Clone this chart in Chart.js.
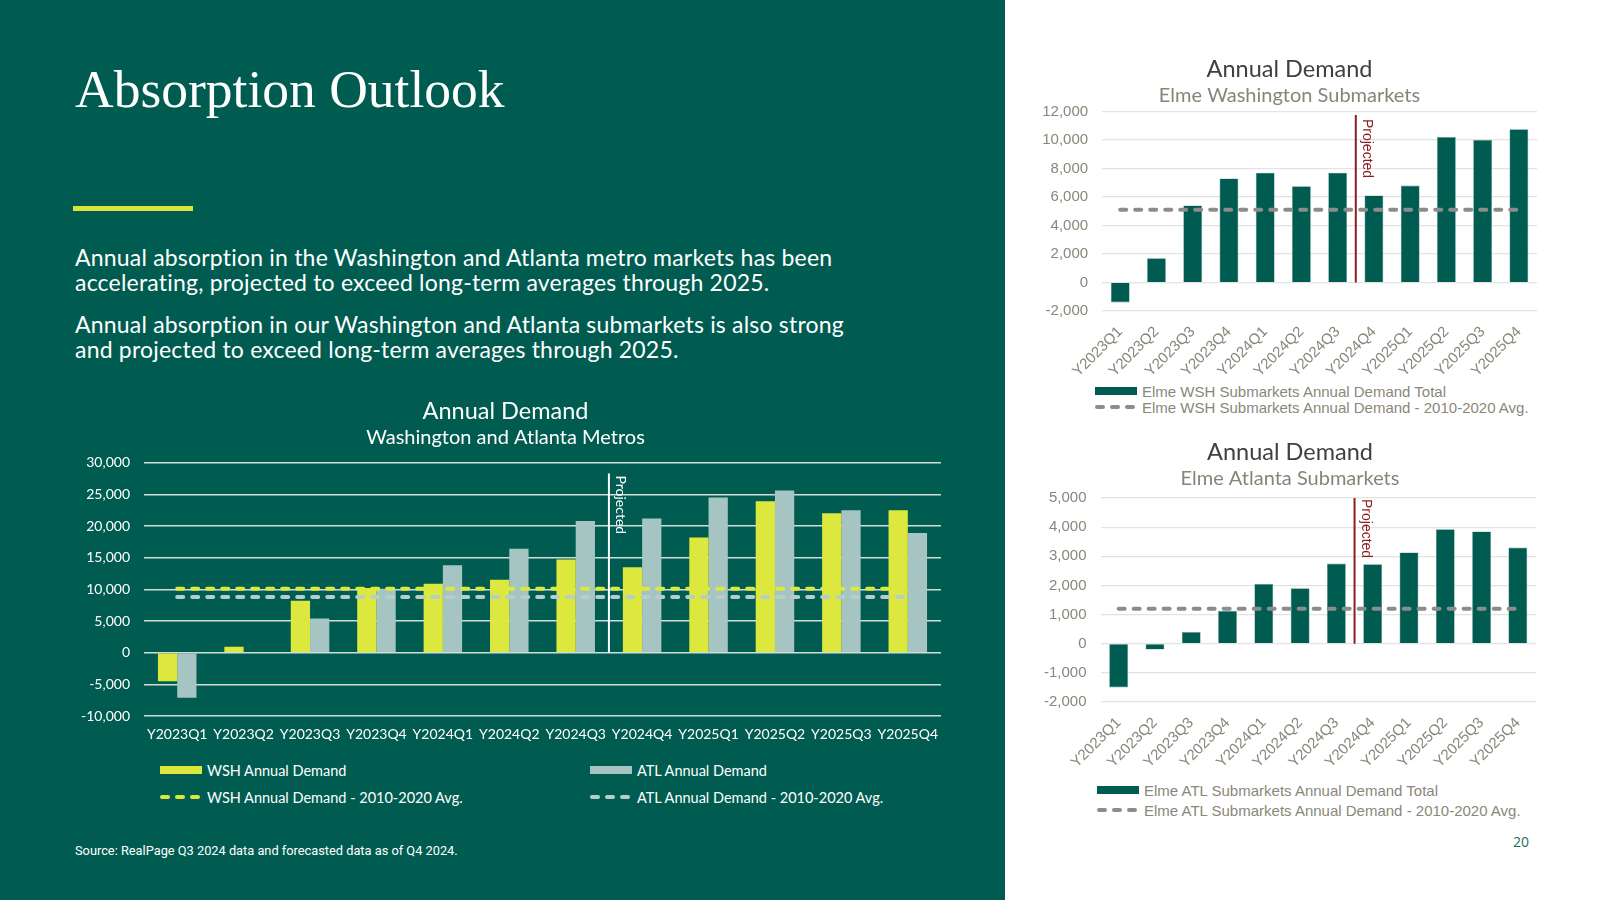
<!DOCTYPE html>
<html>
<head>
<meta charset="utf-8">
<title>Absorption Outlook</title>
<script src="https://cdn.jsdelivr.net/npm/chart.js@4.4.1/dist/chart.umd.min.js"></script>
<style>
  html, body { margin: 0; padding: 0; }
  body { width: 1600px; height: 900px; position: relative; overflow: hidden; background: #fff; font-family: Lato, sans-serif; }
  .panel { position: absolute; left: 0; top: 0; width: 1005px; height: 900px; background: #005c50; }
  .abs { position: absolute; }
  h1 { position: absolute; left: 75px; top: 62px; margin: 0; font: normal 53.5px/54px "Liberation Serif", serif; color: #fff; white-space: nowrap; }
  .accent { position: absolute; left: 73px; top: 206px; width: 120px; height: 5px; background: #d9e63a; }
  .body-text { position: absolute; left: 75px; margin: 0; font: 23px/25px Lato, sans-serif; letter-spacing: 0.2px; color: #fff; white-space: nowrap; }
  .source { position: absolute; left: 75px; top: 843px; font: 12.8px/16px Roboto, sans-serif; color: #fff; white-space: nowrap; }
  .pagenum { position: absolute; left: 1510px; top: 833px; width: 22px; text-align: center; font: 14px/18px "Open Sans", sans-serif; color: #1f6e62; }
  .legend .item { position: absolute; display: flex; align-items: center; white-space: nowrap; }
  .legend svg { display: block; flex: none; }
  #metroLegend .item { font: 14.5px Lato, sans-serif; color: #fff; }
  .subLegend .item { font: 15px "Liberation Sans", Arial, sans-serif; color: #89877a; }
</style>
</head>
<body>
<div class="panel"></div>
<h1>Absorption Outlook</h1>
<div class="accent"></div>
<p class="body-text" style="top:244.5px">Annual absorption in the Washington and Atlanta metro markets has been<br>accelerating, projected to exceed long-term averages through 2025.</p>
<p class="body-text" style="top:311.5px">Annual absorption in our Washington and Atlanta submarkets is also strong<br>and projected to exceed long-term averages through 2025.</p>

<div class="abs" style="left:70px;top:390px;width:871px;height:360px"><canvas id="metroChart"></canvas></div>
<div id="metroLegend" class="legend"></div>

<div class="abs" style="left:1041.5px;top:40px;width:495px;height:341px"><canvas id="wshChart"></canvas></div>
<div id="wshLegend" class="legend subLegend"></div>

<div class="abs" style="left:1043.5px;top:425px;width:492px;height:347px"><canvas id="atlChart"></canvas></div>
<div id="atlLegend" class="legend subLegend"></div>

<div class="source">Source: RealPage Q3 2024 data and forecasted data as of Q4 2024.</div>
<div class="pagenum">20</div>

<script>
// quarters on every x axis
const quarters = ['Y2023Q1', 'Y2023Q2', 'Y2023Q3', 'Y2023Q4', 'Y2024Q1', 'Y2024Q2',
  'Y2024Q3', 'Y2024Q4', 'Y2025Q1', 'Y2025Q2', 'Y2025Q3', 'Y2025Q4'];

// metro markets (left chart)
const wshMetro = [-4500, 950, 8200, 10200, 10900, 11500, 14700, 13500, 18200, 23900, 22000, 22500];
const atlMetro = [-7100, 0, 5400, 10100, 13800, 16400, 20800, 21200, 24500, 25600, 22500, 18900];
const wshMetroAvg = [10100, 10100, 10100, 10100, 10100, 10100, 10100, 10100, 10100, 10100, 10100, 10100];
const atlMetroAvg = [8800, 8800, 8800, 8800, 8800, 8800, 8800, 8800, 8800, 8800, 8800, 8800];
const metroNames = ['WSH Annual Demand', 'ATL Annual Demand',
  'WSH Annual Demand - 2010-2020 Avg.', 'ATL Annual Demand - 2010-2020 Avg.'];

// Elme submarkets (right charts)
const wshSub = [-1400, 1700, 5400, 7300, 7700, 6750, 7700, 6100, 6800, 10200, 10000, 10750];
const wshSubAvg = [5100, 5100, 5100, 5100, 5100, 5100, 5100, 5100, 5100, 5100, 5100, 5100];
const wshSubNames = ['Elme WSH Submarkets Annual Demand Total', 'Elme WSH Submarkets Annual Demand - 2010-2020 Avg.'];
const atlSub = [-1500, -200, 400, 1130, 2050, 1900, 2750, 2730, 3130, 3930, 3850, 3300];
const atlSubAvg = [1200, 1200, 1200, 1200, 1200, 1200, 1200, 1200, 1200, 1200, 1200, 1200];
const atlSubNames = ['Elme ATL Submarkets Annual Demand Total', 'Elme ATL Submarkets Annual Demand - 2010-2020 Avg.'];

const YELLOW = '#dde83e', SAGE = '#a6c5c2', SAGE_DASH = '#b7cdcb', TEAL = '#005c50', DASH_GRAY = '#8c8c8c';
const SUB_TEXT = '#89877a';

// vertical "Projected" marker between two categories
const projectedLine = {
  id: 'projectedLine',
  afterDatasetsDraw(chart, args, opts) {
    const { ctx, scales: { x, y } } = chart;
    const px = (x.getPixelForValue(opts.after) + x.getPixelForValue(opts.after + 1)) / 2;
    const top = y.getPixelForValue(opts.top);
    const bottom = y.getPixelForValue(0);
    ctx.save();
    ctx.strokeStyle = opts.color;
    ctx.lineWidth = opts.width;
    ctx.beginPath();
    ctx.moveTo(px, top);
    ctx.lineTo(px, bottom);
    ctx.stroke();
    ctx.translate(px + opts.dx, top + opts.dy);
    ctx.rotate(Math.PI / 2);
    ctx.fillStyle = opts.color;
    ctx.font = opts.font;
    ctx.textAlign = 'left';
    ctx.textBaseline = 'alphabetic';
    ctx.fillText('Projected', 0, 0);
    ctx.restore();
  }
};

const fmt = v => v.toLocaleString('en-US');

function avgLine(label, data, color) {
  return { type: 'line', label, data, borderColor: color, borderWidth: 4, borderDash: [6, 9],
    borderCapStyle: 'round', pointRadius: 0, fill: false, order: 0 };
}

new Chart(document.getElementById('metroChart'), {
  type: 'bar',
  data: {
    labels: quarters,
    datasets: [
      avgLine(metroNames[2], wshMetroAvg, YELLOW),
      avgLine(metroNames[3], atlMetroAvg, SAGE_DASH),
      { label: metroNames[0], data: wshMetro, backgroundColor: YELLOW, categoryPercentage: 0.58, barPercentage: 1, order: 1 },
      { label: metroNames[1], data: atlMetro, backgroundColor: SAGE, categoryPercentage: 0.58, barPercentage: 1, order: 1 }
    ]
  },
  options: {
    responsive: true, maintainAspectRatio: false, animation: false,
    layout: { padding: 0 },
    plugins: {
      legend: { display: false }, tooltip: { enabled: false },
      title: { display: true, text: 'Annual Demand', color: '#fff', font: { family: 'Lato', size: 23.5, weight: 'normal' }, padding: { top: 7, bottom: 0 } },
      subtitle: { display: true, text: 'Washington and Atlanta Metros', color: '#fff', font: { family: 'Lato', size: 20 }, padding: { top: 0, bottom: 13.5 } },
      projectedLine: { after: 6, top: 28300, color: '#fff', width: 2, font: '14px Lato', dx: 7, dy: 2 }
    },
    scales: {
      x: {
        grid: { display: false }, border: { display: false },
        ticks: { color: '#fff', font: { family: 'Lato', size: 14 }, padding: 2, autoSkip: false, maxRotation: 0 },
        afterFit(s) { s.height = 34; }
      },
      y: {
        min: -10000, max: 30000,
        grid: { color: '#d3dbd9', lineWidth: 1.5, drawTicks: false }, border: { display: false },
        ticks: { stepSize: 5000, color: '#fff', font: { family: 'Lato', size: 14 }, padding: 14, callback: fmt },
        afterFit(s) { s.width = 74; }
      }
    }
  },
  plugins: [projectedLine]
});

function subChart(id, subtitle, names, values, avg, yMin, yMax, step, opts) {
  return new Chart(document.getElementById(id), {
    type: 'bar',
    data: {
      labels: quarters,
      datasets: [
        avgLine(names[1], avg, DASH_GRAY),
        { label: names[0], data: values, backgroundColor: TEAL, borderColor: '#5f968e', borderWidth: 0.6,
          categoryPercentage: 0.52, barPercentage: 1, order: 1 }
      ]
    },
    options: {
      responsive: true, maintainAspectRatio: false, animation: false,
      layout: { padding: 0 },
      plugins: {
        legend: { display: false }, tooltip: { enabled: false },
        title: { display: true, text: 'Annual Demand', color: '#404040', font: { family: 'Lato', size: 23.5, weight: 'normal' }, padding: { top: opts.titleTop, bottom: 0 } },
        subtitle: { display: true, text: subtitle, color: '#878577', font: { family: 'Lato', size: 20 }, padding: { top: 0, bottom: opts.subBottom } },
        projectedLine: { after: 6, top: opts.projTop, color: '#8b1e1e', width: 2, font: '14px "Liberation Sans", Arial', dx: 7, dy: opts.projDy }
      },
      scales: {
        x: {
          grid: { display: false }, border: { display: false },
          ticks: { color: SUB_TEXT, font: { family: 'Liberation Sans', size: 15 }, padding: 4, autoSkip: false, minRotation: 45, maxRotation: 45 },
          afterFit(s) { s.height = 70; }
        },
        y: {
          min: yMin, max: yMax,
          grid: { color: '#e3e3e3', lineWidth: 1.2, drawTicks: false }, border: { display: false },
          ticks: { stepSize: step, color: SUB_TEXT, font: { family: 'Liberation Sans', size: 15 }, padding: 14, callback: fmt },
          afterFit(s) { s.width = opts.axisWidth; }
        }
      }
    },
    plugins: [projectedLine]
  });
}

subChart('wshChart', 'Elme Washington Submarkets', wshSubNames, wshSub, wshSubAvg, -2000, 12000, 2000,
  { titleTop: 15, subBottom: 4.2, axisWidth: 60.1, projTop: 11750, projDy: 4 });
subChart('atlChart', 'Elme Atlanta Submarkets', atlSubNames, atlSub, atlSubAvg, -2000, 5000, 1000,
  { titleTop: 13.5, subBottom: 7.3, axisWidth: 56.5, projTop: 5000, projDy: 1 });

// legends
function swatch(kind, color) {
  if (kind === 'bar') {
    return `<svg width="42" height="10"><rect x="0" y="1" width="42" height="8" fill="${color}"/></svg>`;
  }
  return `<svg width="42" height="10"><line x1="2" y1="5" x2="40" y2="5" stroke="${color}" stroke-width="4" stroke-dasharray="6 9" stroke-linecap="round"/></svg>`;
}
function addLegend(id, items) {
  const box = document.getElementById(id);
  items.forEach(it => {
    const d = document.createElement('div');
    d.className = 'item';
    d.style.left = it.x + 'px';
    d.style.top = (it.y - 10) + 'px';
    d.style.height = '20px';
    d.innerHTML = swatch(it.kind, it.color) + `<span style="margin-left:${it.gap}px">${it.name}</span>`;
    box.appendChild(d);
  });
}
addLegend('metroLegend', [
  { name: metroNames[0], kind: 'bar', color: YELLOW, x: 160, y: 770, gap: 5 },
  { name: metroNames[1], kind: 'bar', color: SAGE, x: 590, y: 770, gap: 5 },
  { name: metroNames[2], kind: 'dash', color: YELLOW, x: 160, y: 797, gap: 5 },
  { name: metroNames[3], kind: 'dash', color: SAGE_DASH, x: 590, y: 797, gap: 5 }
]);
addLegend('wshLegend', [
  { name: wshSubNames[0], kind: 'bar', color: TEAL, x: 1095, y: 391, gap: 5 },
  { name: wshSubNames[1], kind: 'dash', color: DASH_GRAY, x: 1095, y: 407, gap: 5 }
]);
addLegend('atlLegend', [
  { name: atlSubNames[0], kind: 'bar', color: TEAL, x: 1097, y: 790, gap: 5 },
  { name: atlSubNames[1], kind: 'dash', color: DASH_GRAY, x: 1097, y: 810, gap: 5 }
]);
</script>
</body>
</html>
